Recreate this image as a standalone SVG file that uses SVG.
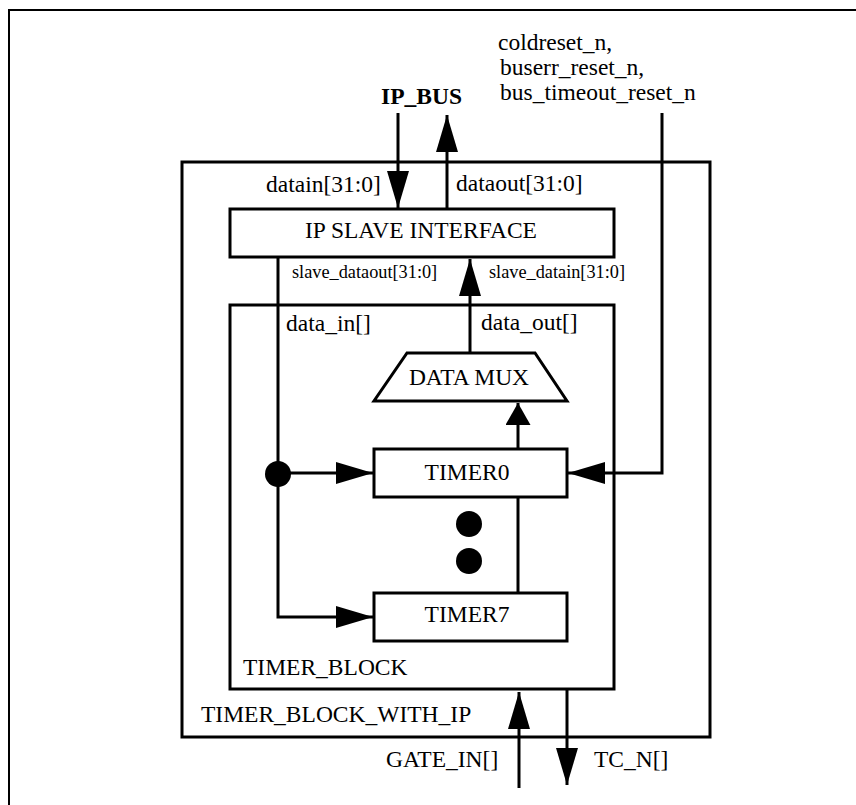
<svg xmlns="http://www.w3.org/2000/svg" width="856" height="805" viewBox="0 0 856 805">
<style>
  .box{fill:#fff;stroke:#000;stroke-width:3}
  .ln{fill:none;stroke:#000;stroke-width:3}
  .t{font-family:"Liberation Serif","Times New Roman",serif;font-size:23.5px;fill:#000}
  .s{font-family:"Liberation Serif","Times New Roman",serif;font-size:18.3px;fill:#000}
  .c{text-anchor:middle}
</style>
<defs>
  <marker id="arr" markerUnits="userSpaceOnUse" markerWidth="37" markerHeight="22" refX="37" refY="11" orient="auto" viewBox="0 0 37 22">
    <path d="M0,0 L37,11 L0,22 Z" fill="#000"/>
  </marker>
  <marker id="arrS" markerUnits="userSpaceOnUse" markerWidth="22" markerHeight="25" refX="22" refY="12.5" orient="auto" viewBox="0 0 22 25">
    <path d="M0,0 L22,12.5 L0,25 Z" fill="#000"/>
  </marker>
</defs>
<rect width="856" height="805" fill="#fff"/>
<path id="frame" d="M9,805 V10 H856" fill="none" stroke="#000" stroke-width="2"/>

<g id="timer_block_with_ip">
  <rect class="box" x="182" y="162" width="528" height="575"/>
  <text class="t" x="201" y="722">TIMER_BLOCK_WITH_IP</text>
</g>
<g id="ip_slave_interface">
  <rect class="box" x="230" y="209" width="384" height="48"/>
  <text class="t c" x="421" y="238">IP SLAVE INTERFACE</text>
</g>
<g id="timer_block">
  <rect class="box" x="230" y="305" width="384" height="384"/>
  <text class="t" x="243" y="675">TIMER_BLOCK</text>
</g>
<g id="data_mux">
  <polygon class="box" points="407,353 535,353 567,401 374,401"/>
  <text class="t c" x="469" y="385">DATA MUX</text>
</g>
<g id="timer0">
  <rect class="box" x="374" y="449" width="193" height="48"/>
  <text class="t c" x="467" y="480">TIMER0</text>
</g>
<g id="timer7">
  <rect class="box" x="374" y="593" width="193" height="48"/>
  <text class="t c" x="467" y="622">TIMER7</text>
</g>
<g id="ellipsis">
  <circle cx="469" cy="524" r="13" fill="#000"/>
  <circle cx="469" cy="561" r="13" fill="#000"/>
</g>

<g id="connectors">
  <path class="ln" d="M398,113 V208" marker-end="url(#arr)"/>
  <path class="ln" d="M447,209 V115" marker-end="url(#arr)"/>
  <path class="ln" d="M662,113 V473 H568" marker-end="url(#arr)"/>
  <path class="ln" d="M278,257 V617 H373" marker-end="url(#arr)"/>
  <path class="ln" d="M278,473 H373" marker-end="url(#arr)"/>
  <circle cx="278" cy="474" r="13" fill="#000"/>
  <path class="ln" d="M470,353 V259" marker-end="url(#arr)"/>
  <path class="ln" d="M518,449 V403" marker-end="url(#arrS)"/>
  <path class="ln" d="M518,497 V593"/>
  <path class="ln" d="M519,788 V692" marker-end="url(#arr)"/>
  <path class="ln" d="M567,689 V785" marker-end="url(#arr)"/>
</g>

<g id="labels">
  <text class="t" x="498" y="50">coldreset_n,</text>
  <text class="t" x="500" y="75">buserr_reset_n,</text>
  <text class="t" x="500" y="100">bus_timeout_reset_n</text>
  <text class="t" x="381" y="104" font-weight="bold">IP_BUS</text>
  <text class="t" x="266" y="192">datain[31:0]</text>
  <text class="t" x="456" y="191">dataout[31:0]</text>
  <text class="s" x="292" y="278">slave_dataout[31:0]</text>
  <text class="s" x="489" y="278">slave_datain[31:0]</text>
  <text class="t" x="286" y="331">data_in[]</text>
  <text class="t" x="481" y="330">data_out[]</text>
  <text class="t" x="386" y="767">GATE_IN[]</text>
  <text class="t" x="594" y="767">TC_N[]</text>
</g>
</svg>
